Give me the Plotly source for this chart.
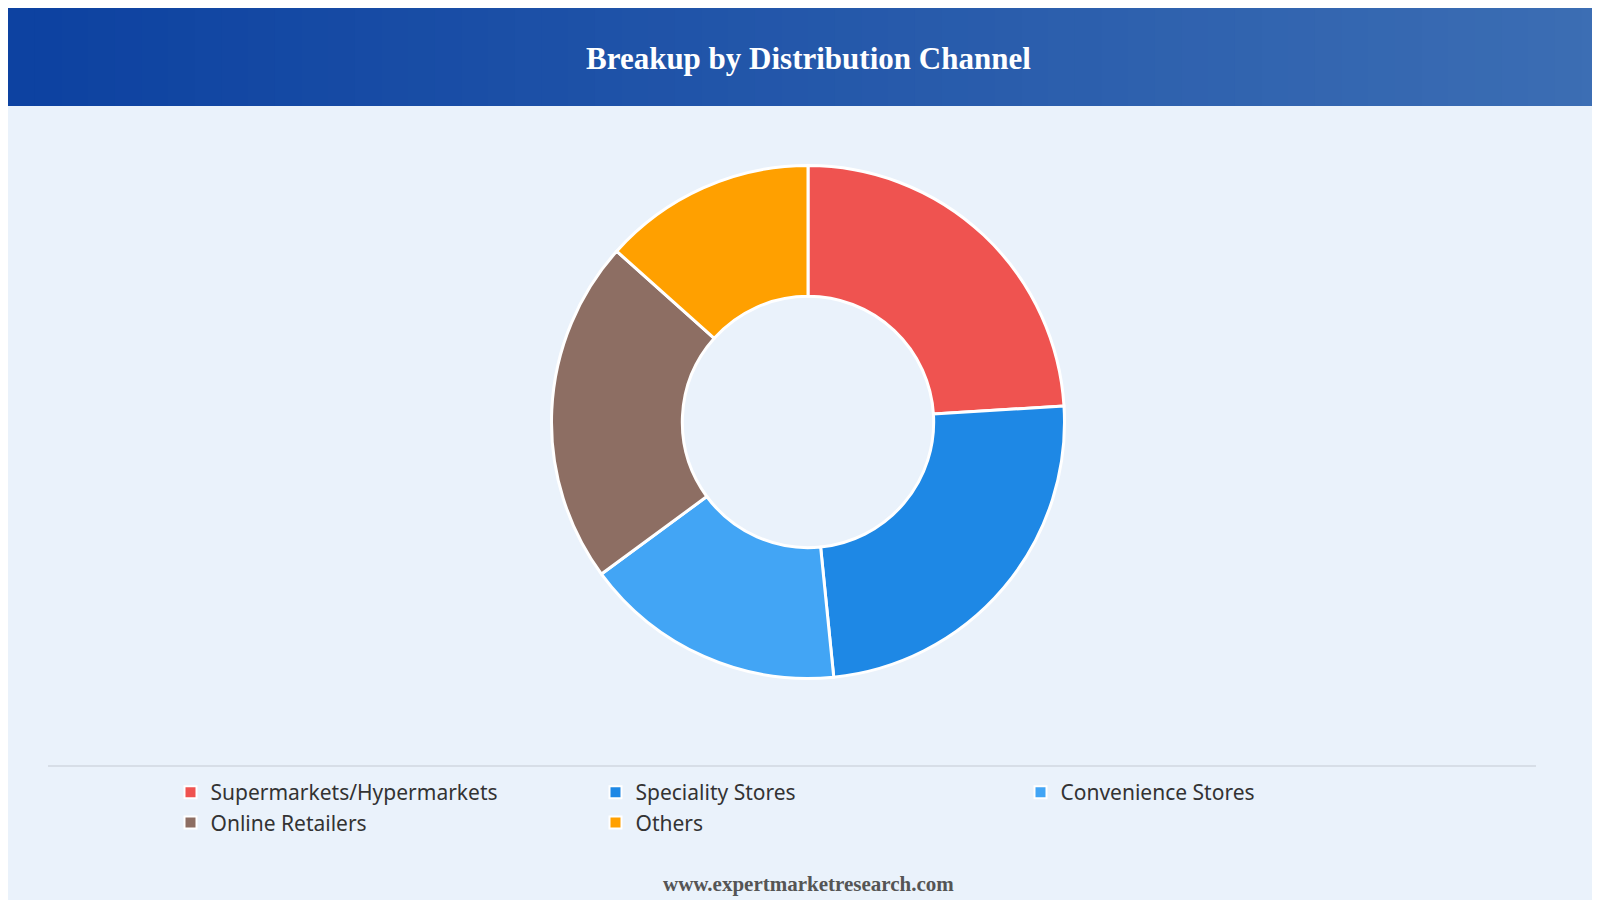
import plotly.graph_objects as go

labels = ["Supermarkets/Hypermarkets", "Speciality Stores", "Convenience Stores", "Online Retailers", "Others"]
values = [24.0, 24.4, 16.5, 21.7, 13.4]
colors = ["#EF5350", "#1E88E5", "#42A5F5", "#8D6E63", "#FFA000"]

fig = go.Figure(go.Pie(
    labels=labels, values=values, hole=0.49, sort=False, direction="clockwise", rotation=0,
    marker=dict(colors=colors, line=dict(color="white", width=3)),
    textinfo="none", hoverinfo="label+percent",
    domain=dict(x=[0, 1], y=[0.255, 0.825]),
))

shapes = []
n = 60
c0 = (13, 66, 161); c1 = (60, 110, 180)
for i in range(n):
    t = i / (n - 1)
    c = tuple(int(c0[k] + (c1[k] - c0[k]) * t) for k in range(3))
    shapes.append(dict(type="rect", xref="paper", yref="paper", x0=i / n, x1=(i + 1) / n + 0.002,
                       y0=1 - 98 / 900, y1=1, fillcolor="rgb(%d,%d,%d)" % c, line=dict(width=0), layer="below"))
shapes.append(dict(type="line", xref="paper", yref="paper", x0=40 / 1600, x1=1528 / 1600,
                   y0=1 - 758 / 900, y1=1 - 758 / 900, line=dict(color="#D0D7E0", width=1.5)))

fig.update_layout(
    width=1600, height=900, margin=dict(l=0, r=0, t=0, b=0),
    paper_bgcolor="#EAF2FB", plot_bgcolor="#EAF2FB",
    shapes=shapes,
    showlegend=True,
    legend=dict(orientation="h", x=0.5, xanchor="center", y=1 - 764 / 900, yanchor="top",
                entrywidth=380, entrywidthmode="pixels",
                font=dict(family="Noto Sans", size=21, color="#333"), itemsizing="constant"),
    annotations=[
        dict(text="<b>Breakup by Distribution Channel</b>", xref="paper", yref="paper", x=0.5, y=1 - 50 / 900,
             showarrow=False, font=dict(family="Liberation Serif", size=31, color="white"), yanchor="middle"),
        dict(text="<b>www.expertmarketresearch.com</b>", xref="paper", yref="paper", x=0.5, y=1 - 876 / 900,
             showarrow=False, font=dict(family="Liberation Serif", size=21, color="#555"), yanchor="middle"),
    ],
)
fig.write_html("out.html")
